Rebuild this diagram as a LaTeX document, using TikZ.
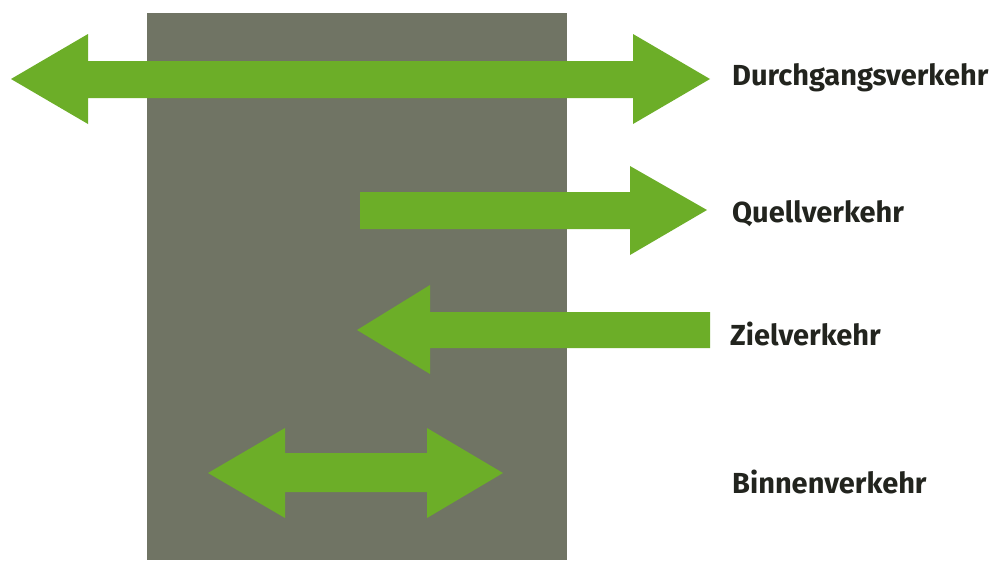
\documentclass[tikz,border=0pt]{standalone}
\usepackage{fontspec}
\setsansfont{Fira Sans}
\usepackage{tikz}
\usetikzlibrary{positioning}
\definecolor{roadgray}{RGB}{112,116,100}
\definecolor{flowgreen}{RGB}{108,174,40}
\definecolor{labelblack}{RGB}{34,36,30}

\begin{document}
\begin{tikzpicture}[
  x=1pt, y=-1pt,
  flow/.style={fill=flowgreen},
  lbl/.style={anchor=base west, inner sep=0pt, text=labelblack,
    font=\sffamily\bfseries\fontsize{29}{30}\selectfont}
]
  \useasboundingbox (0,0) rectangle (994,560);
  \fill[white] (0,0) rectangle (994,560);
  % area
  \fill[roadgray] (147,13) rectangle (567,560);

  % Durchgangsverkehr
  \fill[flow] (11,79) -- (88,34) -- (88,61) -- (633,61) -- (633,34) -- (710,79)
    -- (633,124) -- (633,98) -- (88,98) -- (88,124) -- cycle;
  % Quellverkehr
  \fill[flow] (360,192) -- (630,192) -- (630,166) -- (707,210) -- (630,255)
    -- (630,229) -- (360,229) -- cycle;
  % Zielverkehr
  \fill[flow] (357,330) -- (430,285) -- (430,312) -- (710,312) -- (710,348)
    -- (430,348) -- (430,374) -- cycle;
  % Binnenverkehr
  \fill[flow] (208,473) -- (285,428) -- (285,453) -- (427,453) -- (427,428) -- (503,473)
    -- (427,518) -- (427,492) -- (285,492) -- (285,518) -- cycle;

  \node[lbl] (durch) at (732,85) {Durchgangsverkehr};
  \node[lbl] (quell) at (732,222) {Quellverkehr};
  \node[lbl] (ziel) at (730,345) {Zielverkehr};
  \node[lbl] (binnen) at (732,493) {Binnenverkehr};
\end{tikzpicture}
\end{document}
